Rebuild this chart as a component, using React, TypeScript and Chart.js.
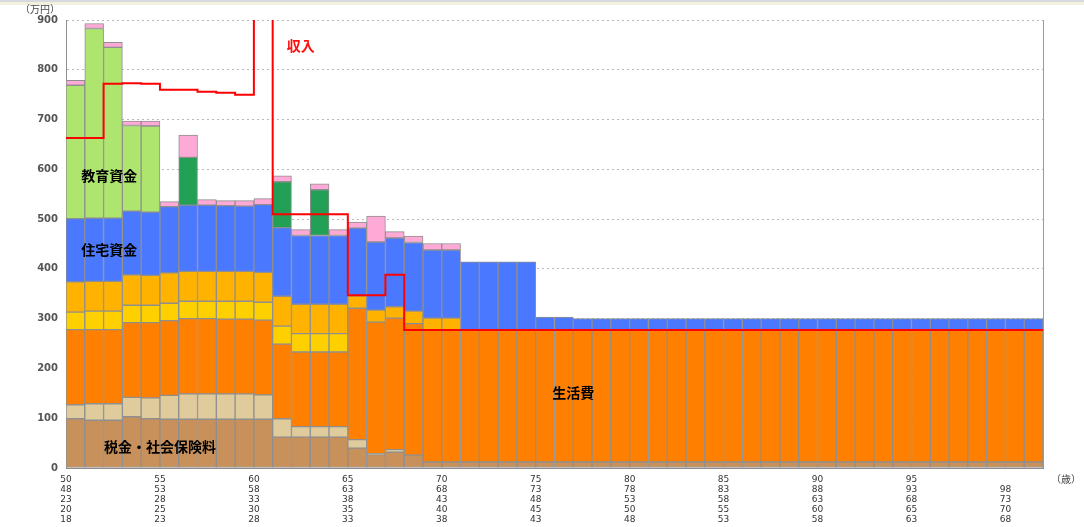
import React, { useEffect, useRef } from 'react';
import { Chart, registerables } from 'chart.js';

Chart.register(...registerables);

// Age (person 1) for each bar
const ages = [
  50, 51, 52, 53, 54, 55, 56, 57, 58, 59,
  60, 61, 62, 63, 64, 65, 66, 67, 68, 69,
  70, 71, 72, 73, 74, 75, 76, 77, 78, 79,
  80, 81, 82, 83, 84, 85, 86, 87, 88, 89,
  90, 91, 92, 93, 94, 95, 96, 97, 98, 99,
  100, 101,
];

// 税金・社会保険料
const taxes = [
  99, 96, 96, 103, 99, 98, 98, 98, 98, 98,
  98, 62, 62, 62, 62, 40, 27, 32, 26, 12,
  12, 12, 12, 12, 12, 12, 12, 12, 12, 12,
  12, 12, 12, 12, 12, 12, 12, 12, 12, 12,
  12, 12, 12, 12, 12, 12, 12, 12, 12, 12,
  12, 12,
];
// 保険料
const insurance = [
  28, 33, 33, 39, 42, 48, 51, 51, 51, 51,
  49, 37, 21, 21, 21, 17, 2, 5, 0, 0,
  0, 0, 0, 0, 0, 0, 0, 0, 0, 0,
  0, 0, 0, 0, 0, 0, 0, 0, 0, 0,
  0, 0, 0, 0, 0, 0, 0, 0, 0, 0,
  0, 0,
];
// 生活費
const living = [
  151, 149, 149, 150, 151, 150, 151, 151, 150, 150,
  150, 150, 150, 150, 150, 264, 264, 264, 264, 265,
  265, 265, 265, 265, 265, 265, 265, 265, 265, 265,
  265, 265, 265, 265, 265, 265, 265, 265, 265, 265,
  265, 265, 265, 265, 265, 265, 265, 265, 265, 265,
  265, 265,
];
// その他支出 1
const otherA = [
  35, 37, 37, 35, 35, 35, 35, 35, 36, 36,
  36, 36, 37, 37, 37, 0, 0, 0, 0, 0,
  0, 0, 0, 0, 0, 0, 0, 0, 0, 0,
  0, 0, 0, 0, 0, 0, 0, 0, 0, 0,
  0, 0, 0, 0, 0, 0, 0, 0, 0, 0,
  0, 0,
];
// その他支出 2
const otherB = [
  61, 60, 60, 61, 60, 61, 60, 60, 60, 60,
  60, 60, 59, 59, 59, 25, 24, 23, 25, 24,
  24, 0, 0, 0, 0, 0, 0, 0, 0, 0,
  0, 0, 0, 0, 0, 0, 0, 0, 0, 0,
  0, 0, 0, 0, 0, 0, 0, 0, 0, 0,
  0, 0,
];
// 住宅資金
const housing = [
  127, 127, 127, 128, 127, 133, 133, 133, 132, 131,
  136, 138, 138, 138, 138, 136, 137, 138, 138, 137,
  137, 137, 137, 137, 137, 26, 26, 23, 23, 23,
  23, 23, 23, 23, 23, 23, 23, 23, 23, 23,
  23, 23, 23, 23, 23, 23, 23, 23, 23, 23,
  23, 23,
];
// 教育資金
const education = [
  268, 381, 343, 172, 173, 0, 0, 0, 0, 0,
  0, 0, 0, 0, 0, 0, 0, 0, 0, 0,
  0, 0, 0, 0, 0, 0, 0, 0, 0, 0,
  0, 0, 0, 0, 0, 0, 0, 0, 0, 0,
  0, 0, 0, 0, 0, 0, 0, 0, 0, 0,
  0, 0,
];
// 車両費
const car = [
  0, 0, 0, 0, 0, 0, 96, 0, 0, 0,
  0, 92, 0, 92, 0, 0, 0, 0, 0, 0,
  0, 0, 0, 0, 0, 0, 0, 0, 0, 0,
  0, 0, 0, 0, 0, 0, 0, 0, 0, 0,
  0, 0, 0, 0, 0, 0, 0, 0, 0, 0,
  0, 0,
];
// 一時支出
const oneTime = [
  10, 10, 10, 9, 10, 10, 45, 11, 10, 11,
  12, 12, 12, 12, 12, 12, 52, 13, 13, 13,
  13, 0, 0, 0, 0, 0, 0, 0, 0, 0,
  0, 0, 0, 0, 0, 0, 0, 0, 0, 0,
  0, 0, 0, 0, 0, 0, 0, 0, 0, 0,
  0, 0,
];
// 収入
const income = [
  663, 663, 772, 773, 772, 760, 760, 756, 754, 750,
  1500, 510, 510, 510, 510, 347, 347, 388, 277, 277,
  277, 277, 277, 277, 277, 277, 277, 277, 277, 277,
  277, 277, 277, 277, 277, 277, 277, 277, 277, 277,
  277, 277, 277, 277, 277, 277, 277, 277, 277, 277,
  277, 277,
];

// Tick label rows (every 5 years)
const tickValues = [50, 55, 60, 65, 70, 75, 80, 85, 90, 95, 100];
const ageRow1 = ['50', '55', '60', '65', '70', '75', '80', '85', '90', '95', ''];
const ageRow2 = ['48', '53', '58', '63', '68', '73', '78', '83', '88', '93', '98'];
const ageRow3 = ['23', '28', '33', '38', '43', '48', '53', '58', '63', '68', '73'];
const ageRow4 = ['20', '25', '30', '35', '40', '45', '50', '55', '60', '65', '70'];
const ageRow5 = ['18', '23', '28', '33', '38', '43', '48', '53', '58', '63', '68'];

const yTicks = [0, 100, 200, 300, 400, 500, 600, 700, 800, 900];

const nz = (arr: number[]) => arr.map((v) => (v === 0 ? null : v));

const barSeries: { label: string; data: number[]; color: string }[] = [
  { label: '税金・社会保険料', data: taxes, color: '#C8905A' },
  { label: '保険料', data: insurance, color: '#DFCB9C' },
  { label: '生活費', data: living, color: '#FF8000' },
  { label: 'その他1', data: otherA, color: '#FFD000' },
  { label: 'その他2', data: otherB, color: '#FFB300' },
  { label: '住宅資金', data: housing, color: '#4A78FF' },
  { label: '教育資金', data: education, color: '#AEE56F' },
  { label: '車両費', data: car, color: '#22A055' },
  { label: '一時支出', data: oneTime, color: '#FFA9D6' },
];

const CJK = '"Noto Sans CJK JP", "Noto Sans", sans-serif';

const overlayPlugin = {
  id: 'overlay',
  afterDatasetsDraw(chart: any) {
    const { ctx, chartArea, scales } = chart;
    const { left, right, top, bottom } = chartArea;
    const xs = scales.x2;
    const ys = scales.y;
    ctx.save();
    // right border of plot
    ctx.strokeStyle = '#9a9a9a';
    ctx.lineWidth = 1;
    ctx.beginPath();
    ctx.moveTo(Math.round(right) + 0.5, top);
    ctx.lineTo(Math.round(right) + 0.5, bottom);
    ctx.stroke();

    const label = (text: string, xv: number, yv: number, color: string) => {
      ctx.fillStyle = color;
      ctx.font = `bold 14px ${CJK}`;
      ctx.textAlign = 'center';
      ctx.textBaseline = 'middle';
      ctx.fillText(text, xs.getPixelForValue(xv), ys.getPixelForValue(yv));
    };
    label('教育資金', 52.3, 588, '#000');
    label('住宅資金', 52.3, 438, '#000');
    label('税金・社会保険料', 55.0, 42, '#000');
    label('生活費', 77.0, 151, '#000');
    label('収入', 62.5, 848, '#FF1010');

    ctx.fillStyle = '#444';
    ctx.font = `10px ${CJK}`;
    ctx.textAlign = 'left';
    ctx.textBaseline = 'middle';
    ctx.fillText('（万円）', left - 46, top - 11);
    ctx.fillText('（歳）', right + 8, bottom + 11);
    ctx.restore();
  },
};

export default function App() {
  const ref = useRef<HTMLCanvasElement>(null);

  useEffect(() => {
    if (!ref.current) return;
    const datasets: any[] = barSeries.map((s) => ({
      type: 'bar',
      label: s.label,
      data: nz(s.data),
      backgroundColor: s.color,
      borderColor: '#8f8f8f',
      borderWidth: 1,
      borderSkipped: false,
      xAxisID: 'x',
      yAxisID: 'y',
      grouped: false,
      barPercentage: 1,
      categoryPercentage: 1,
      order: 2,
    }));
    const incomePoints = ages.map((a, i) => ({ x: a, y: income[i] }));
    incomePoints.push({ x: ages[ages.length - 1] + 1, y: income[income.length - 1] });
    datasets.push({
      type: 'line',
      label: '収入',
      data: incomePoints,
      borderColor: '#FF0000',
      borderWidth: 2,
      pointRadius: 0,
      fill: false,
      stepped: true,
      xAxisID: 'x2',
      yAxisID: 'y',
      stack: 'income',
      order: 1,
    });

    const chart = new Chart(ref.current, {
      data: { labels: ages.map(String), datasets },
      options: {
        responsive: false,
        animation: false,
        devicePixelRatio: 1,
        layout: { padding: { left: 0, right: 41, top: 20, bottom: 0 } },
        plugins: { legend: { display: false }, tooltip: { enabled: false } },
        scales: {
          x: {
            type: 'category',
            stacked: true,
            display: false,
            offset: true,
          },
          x2: {
            type: 'linear',
            position: 'bottom',
            min: ages[0],
            max: ages[ages.length - 1] + 1,
            grid: { display: false, drawTicks: false },
            border: { display: true, color: '#8f8f8f' },
            afterBuildTicks: (scale: any) => {
              scale.ticks = tickValues.map((v) => ({ value: v }));
            },
            afterFit: (scale: any) => {
              scale.height = 59;
            },
            ticks: {
              autoSkip: false,
              maxRotation: 0,
              minRotation: 0,
              padding: 7,
              color: '#333',
              font: { family: '"DejaVu Sans", sans-serif', size: 9, lineHeight: 1.1 },
              callback: (v: any) => {
                const i = tickValues.indexOf(Number(v));
                if (i < 0) return '';
                return [ageRow1[i], ageRow2[i], ageRow3[i], ageRow4[i], ageRow5[i]];
              },
            },
          },
          y: {
            stacked: true,
            min: 0,
            max: 900,
            afterBuildTicks: (scale: any) => {
              scale.ticks = yTicks.map((v) => ({ value: v }));
            },
            afterFit: (scale: any) => {
              scale.width = 66;
            },
            grid: { color: '#b8b8b8', drawTicks: false, lineWidth: 1 },
            border: { display: true, color: '#8f8f8f', dash: [2, 3] },
            ticks: {
              padding: 8,
              color: '#555',
              font: { family: '"DejaVu Sans", sans-serif', size: 10, weight: 'bold' },
            },
          },
        },
      } as any,
      plugins: [overlayPlugin],
    } as any);
    return () => chart.destroy();
  }, []);

  return (
    <div style={{ position: 'fixed', left: 0, top: 0, width: 1084, height: 527, background: '#fff', overflow: 'hidden' }}>
      <div
        style={{
          position: 'absolute',
          left: 0,
          top: 0,
          width: 1084,
          height: 5,
          background: 'linear-gradient(#d6dadf 0px, #d6dadf 1.5px, #f1f1df 2px, #f1f1df 5px)',
        }}
      />
      <canvas ref={ref} width={1084} height={527} style={{ position: 'absolute', left: 0, top: 0, width: 1084, height: 527 }} />
    </div>
  );
}
